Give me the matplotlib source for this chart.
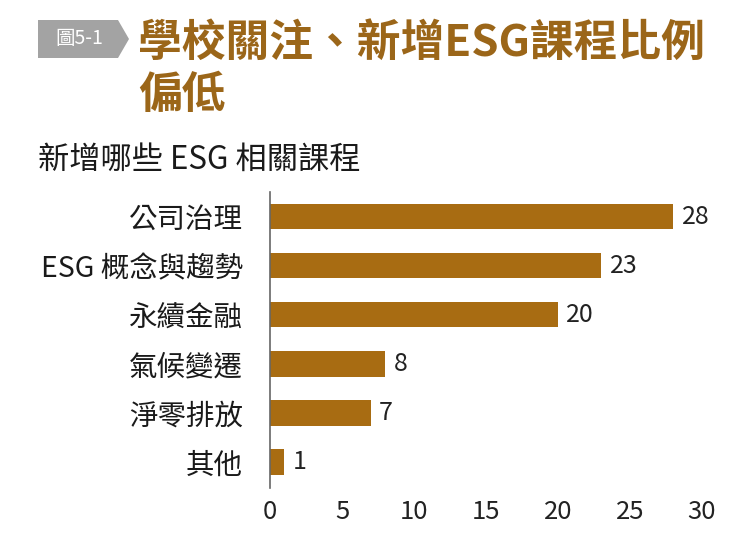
import matplotlib
matplotlib.use("Agg")
import matplotlib.pyplot as plt
from matplotlib.patches import Polygon

plt.rcParams['font.family'] = ['Noto Sans CJK TC', 'DejaVu Sans']

categories = ['公司治理', 'ESG 概念與趨勢', '永續金融', '氣候變遷', '淨零排放', '其他']
values = [28, 23, 20, 8, 7, 1]
xticks = [0, 5, 10, 15, 20, 25, 30]

bar_color = '#a86c12'
title_color = '#9b6619'

fig = plt.figure(figsize=(7.49, 5.48), dpi=100)
ax = fig.add_axes([0.3605, 0.1095, 0.5767, 0.5401])

ypos = list(range(len(categories)))[::-1]
ax.barh(ypos, values, height=0.52, color=bar_color)
for y, v in zip(ypos, values):
    ax.annotate(str(v), (v, y), xytext=(6, 0), textcoords='offset points',
                va='center', ha='left', fontsize=18, color='#222222')

ax.set_xlim(0, 30)
ax.set_ylim(-0.53, 5.5)
ax.set_yticks(ypos)
ax.set_yticklabels(categories, fontsize=20.5, color='#1a1a1a')
ax.set_xticks(xticks)
ax.set_xticklabels([str(t) for t in xticks], fontsize=18.5, color='#222222')
ax.tick_params(axis='both', length=0)
ax.tick_params(axis='y', pad=19.5)
ax.tick_params(axis='x', pad=8)
for s in ['top', 'right', 'bottom']:
    ax.spines[s].set_visible(False)
ax.spines['left'].set_color('#666666')
ax.spines['left'].set_linewidth(1.2)

# header badge
W, H = 749, 548
pts = [(38, 20), (118, 20), (129, 39), (118, 58), (38, 58)]
badge = Polygon([(x / W, 1 - y / H) for x, y in pts], closed=True,
                transform=fig.transFigure, facecolor='#a3a3a3', edgecolor='none')
fig.patches.append(badge)
fig.text(79 / W, 1 - 39 / H, '圖5-1', color='white', fontsize=14,
         ha='center', va='center')

fig.text(138 / W, 1 - 43 / H, '學校關注、新增ESG課程比例', color=title_color,
         fontsize=31.5, fontweight='bold', ha='left', va='center')
fig.text(138 / W, 1 - 95 / H, '偏低', color=title_color,
         fontsize=31.5, fontweight='bold', ha='left', va='center')

fig.text(38 / W, 1 - 160 / H, '新增哪些 ESG 相關課程', color='#1a1a1a',
         fontsize=22.5, ha='left', va='center')

fig.savefig('out.png', dpi=100, facecolor='white')
